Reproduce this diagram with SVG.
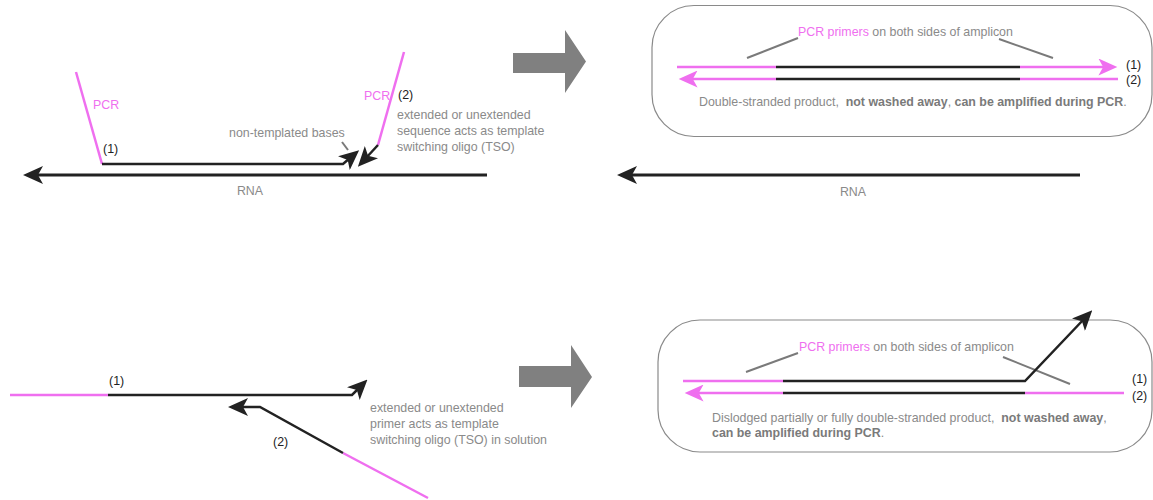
<svg xmlns="http://www.w3.org/2000/svg" width="1153" height="500" viewBox="0 0 1153 500">
<style>
text{font-family:"Liberation Sans",Arial,sans-serif;font-size:12.4px;fill:#8a8a8a}
.b{font-weight:bold;fill:#7a7a7a}
.m{fill:#ef6fef}
.k{fill:#222}
.blk{stroke:#222;stroke-width:2.5;fill:none}
.rna{stroke:#222;stroke-width:3;fill:none}
.mag{stroke:#ef6fef;stroke-width:2.5;fill:none}
.lead{stroke:#7a7a7a;stroke-width:2;fill:none}
.box{fill:none;stroke:#8a8a8a;stroke-width:1.2}
.big{fill:#808080}
</style>
<defs>
<marker id="ak" viewBox="0 0 20 18" markerWidth="20" markerHeight="18" refX="8" refY="9" orient="auto" markerUnits="userSpaceOnUse"><path d="M20,9 L0,0 L5,9 L0,18 Z" fill="#222"/></marker>
<marker id="am" viewBox="0 0 20 18" markerWidth="20" markerHeight="17" refX="8" refY="9" orient="auto" markerUnits="userSpaceOnUse"><path d="M20,9 L0,0 L5,9 L0,18 Z" fill="#ef6fef"/></marker>
</defs>

<g id="big-arrows">
<polygon class="big" points="513,53 565,53 565,30 586,61.5 565,93 565,73 513,73"/>
<polygon class="big" points="519,366 571,366 571,345 592,377 571,408 571,387 519,387"/>
</g>

<g id="boxes">
<rect id="box-top" class="box" x="652" y="5.5" width="500" height="131" rx="42"/>
<rect id="box-bottom" class="box" x="658" y="320" width="494" height="132" rx="42"/>
</g>

<g id="connectors">
<!-- top-left -->
<line class="mag" x1="76" y1="72" x2="102" y2="164"/>
<polyline class="blk" points="102,164 343,164 350,158" marker-end="url(#ak)"/>
<line class="mag" x1="404" y1="52" x2="378" y2="145"/>
<line class="blk" x1="378" y1="145" x2="366" y2="158" marker-end="url(#ak)"/>
<line class="lead" x1="342" y1="142" x2="348" y2="150"/>
<line class="rna" x1="487" y1="175" x2="35" y2="175" marker-end="url(#ak)"/>
<!-- top-right -->
<line class="lead" x1="747" y1="58" x2="798" y2="38"/>
<line class="lead" x1="999" y1="39" x2="1053" y2="58"/>
<line class="mag" x1="677" y1="67" x2="776" y2="67"/>
<line class="blk" x1="776" y1="67" x2="1020" y2="67"/>
<line class="mag" x1="1020" y1="67" x2="1106" y2="67" marker-end="url(#am)"/>
<line class="mag" x1="776" y1="79" x2="690" y2="79" marker-end="url(#am)"/>
<line class="blk" x1="776" y1="79" x2="1020" y2="79"/>
<line class="mag" x1="1020" y1="79" x2="1118" y2="79"/>
<line class="rna" x1="1080" y1="175" x2="629" y2="175" marker-end="url(#ak)"/>
<!-- bottom-left -->
<line class="mag" x1="10" y1="395" x2="108" y2="395"/>
<polyline class="blk" points="108,395 352,395 359,388" marker-end="url(#ak)"/>
<line class="mag" x1="428" y1="498" x2="343" y2="453"/>
<polyline class="blk" points="343,453 260,407 240,407" marker-end="url(#ak)"/>
<!-- bottom-right -->
<line class="lead" x1="746" y1="372" x2="798" y2="353"/>
<line class="lead" x1="1003" y1="357" x2="1070" y2="384"/>
<line class="mag" x1="683" y1="381" x2="783" y2="381"/>
<polyline class="blk" points="783,381 1025,381 1084,319" marker-end="url(#ak)"/>
<line class="mag" x1="783" y1="393" x2="696" y2="393" marker-end="url(#am)"/>
<line class="blk" x1="783" y1="393" x2="1025" y2="393"/>
<line class="mag" x1="1025" y1="393" x2="1124" y2="393"/>
</g>

<g id="labels-top-left">
<text class="m" x="93" y="109">PCR</text>
<text class="m" x="364" y="100">PCR</text>
<text class="k" x="103" y="153">(1)</text>
<text class="k" x="398" y="99">(2)</text>
<text x="229" y="137">non-templated bases</text>
<text x="397" y="119">extended or unextended</text>
<text x="397" y="135">sequence acts as template</text>
<text x="397" y="151">switching oligo (TSO)</text>
<text x="250" y="195" text-anchor="middle">RNA</text>
</g>

<g id="labels-top-right">
<text x="798" y="36"><tspan class="m">PCR primers</tspan> on both sides of amplicon</text>
<text class="k" x="1126" y="69">(1)</text>
<text class="k" x="1126" y="84">(2)</text>
<text x="699" y="106" xml:space="preserve">Double-stranded product,  <tspan class="b">not washed away</tspan>, <tspan class="b">can be amplified during PCR</tspan>.</text>
<text x="853" y="196" text-anchor="middle">RNA</text>
</g>

<g id="labels-bottom-left">
<text class="k" x="109" y="385">(1)</text>
<text class="k" x="273" y="446">(2)</text>
<text x="370" y="412">extended or unextended</text>
<text x="370" y="428">primer acts as template</text>
<text x="370" y="444">switching oligo (TSO) in solution</text>
</g>

<g id="labels-bottom-right">
<text x="799" y="351"><tspan class="m">PCR primers</tspan> on both sides of amplicon</text>
<text class="k" x="1132" y="383">(1)</text>
<text class="k" x="1132" y="400">(2)</text>
<text x="712" y="422" xml:space="preserve">Dislodged partially or fully double-stranded product,  <tspan class="b">not washed away</tspan>,</text>
<text x="712" y="437"><tspan class="b">can be amplified during PCR</tspan>.</text>
</g>
</svg>
